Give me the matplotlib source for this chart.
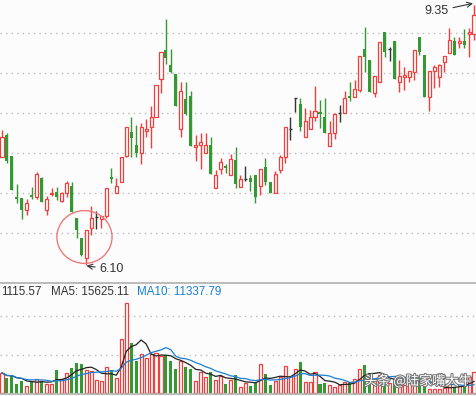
import numpy as np
import pandas as pd
import matplotlib
matplotlib.use('Agg')
import matplotlib.pyplot as plt
from matplotlib.patches import Ellipse
import matplotlib.patheffects as pe

# daily prices
opens = [7.45, 7.72, 7.46, 6.94, 6.94, 6.79, 6.98, 6.95, 7.19, 6.79,
         6.99, 7.01, 6.90, 7.00, 7.09, 6.69, 6.44, 6.19, 6.56, 6.70,
         6.68, 6.71, 7.20, 7.00, 7.14, 7.46, 7.76, 7.60, 7.50, 7.78,
         7.83, 7.95, 8.43, 8.79, 8.60, 8.49, 7.80, 8.18, 8.21, 7.58,
         7.60, 7.50, 7.60, 7.06, 7.30, 7.34, 7.22, 7.41, 7.08, 7.18,
         7.19, 7.22, 7.09, 7.33, 7.14, 7.00, 7.29, 7.45, 7.80, 8.19,
         8.11, 7.70, 7.80, 7.95, 8.01, 7.95, 7.59, 7.75, 8.00, 8.00,
         8.21, 8.20, 8.29, 8.80, 8.66, 8.25, 8.39, 9.01, 8.80, 8.90,
         8.39, 8.45, 8.45, 8.51, 8.95, 8.72, 8.20, 8.52, 8.45, 8.64,
         8.75, 8.90, 8.88, 8.90, 8.99, 8.99]
highs = [7.79, 7.75, 7.46, 7.11, 6.94, 6.93, 7.08, 7.26, 7.20, 6.96,
         7.06, 7.08, 7.01, 7.15, 7.14, 6.69, 6.44, 6.54, 6.84, 6.78,
         6.71, 7.06, 7.31, 7.19, 7.45, 7.83, 7.95, 7.85, 7.88, 7.93,
         8.09, 8.35, 8.76, 9.18, 8.80, 8.49, 8.39, 8.39, 8.28, 7.73,
         7.75, 7.75, 7.70, 7.29, 7.44, 7.36, 7.49, 7.58, 7.22, 7.34,
         7.22, 7.22, 7.30, 7.44, 7.14, 7.28, 7.48, 7.83, 7.95, 8.19,
         8.19, 8.06, 8.04, 8.34, 8.16, 8.19, 7.90, 8.00, 8.10, 8.28,
         8.39, 8.41, 8.71, 9.08, 8.66, 8.46, 8.89, 9.01, 8.82, 8.90,
         8.66, 8.58, 8.52, 8.79, 8.95, 8.72, 8.52, 8.60, 8.61, 8.71,
         9.06, 8.95, 8.95, 9.05, 9.06, 9.35]
lows = [7.45, 7.38, 7.04, 6.88, 6.68, 6.73, 6.93, 6.93, 6.89, 6.73,
        6.96, 6.91, 6.89, 6.95, 6.76, 6.44, 6.21, 6.10, 6.47, 6.55,
        6.56, 6.69, 7.13, 7.00, 7.14, 7.45, 7.45, 7.45, 7.36, 7.70,
        7.56, 7.95, 8.25, 8.61, 8.50, 8.09, 7.70, 7.98, 7.59, 7.40,
        7.30, 7.50, 7.24, 7.06, 7.24, 7.25, 7.22, 7.06, 7.08, 7.15,
        7.03, 6.88, 6.98, 7.10, 7.00, 7.00, 7.25, 7.38, 7.66, 8.01,
        7.78, 7.70, 7.80, 7.90, 7.81, 7.75, 7.59, 7.68, 7.89, 8.00,
        8.15, 8.20, 8.26, 8.51, 8.26, 8.20, 8.39, 8.70, 8.65, 8.43,
        8.26, 8.29, 8.39, 8.41, 8.72, 8.20, 8.02, 8.31, 8.33, 8.51,
        8.75, 8.72, 8.81, 8.81, 8.70, 8.91]
closes = [7.70, 7.40, 7.04, 6.93, 6.79, 6.88, 6.95, 7.24, 6.89, 6.93,
          7.00, 6.95, 7.00, 7.13, 6.76, 6.54, 6.22, 6.54, 6.69, 6.70,
          6.71, 7.06, 7.18, 7.09, 7.45, 7.83, 7.69, 7.50, 7.83, 7.80,
          7.95, 8.35, 8.76, 8.69, 8.51, 8.09, 8.28, 7.99, 7.59, 7.60,
          7.64, 7.60, 7.24, 7.22, 7.39, 7.31, 7.42, 7.11, 7.18, 7.18,
          7.14, 6.95, 7.30, 7.14, 7.00, 7.24, 7.45, 7.83, 7.80, 8.19,
          7.83, 7.90, 7.95, 8.02, 7.99, 7.75, 7.75, 7.99, 8.00, 8.19,
          8.19, 8.30, 8.71, 8.70, 8.26, 8.46, 8.89, 8.76, 8.80, 8.43,
          8.46, 8.47, 8.52, 8.79, 8.76, 8.20, 8.52, 8.58, 8.60, 8.71,
          8.91, 8.72, 8.90, 8.85, 9.01, 9.22]
volumes = [26000, 19500, 22100, 11700, 15600, 9100, 15600, 18200, 15600, 11700,
           11700, 29900, 18200, 26000, 32500, 39000, 37700, 29900, 28600, 16900,
           15600, 33800, 29900, 19500, 70200, 117000, 65000, 41600, 50700, 45500,
           50700, 52000, 48100, 49400, 41600, 31200, 41600, 33800, 31200, 15600,
           27300, 20800, 27300, 16900, 22100, 11700, 16900, 23400, 7800, 13000,
           9100, 13000, 37700, 24700, 10400, 15600, 20800, 35100, 22100, 31200,
           40300, 14300, 14300, 27300, 11700, 13000, 10400, 7800, 10400, 14300,
           14300, 18200, 31200, 36400, 26000, 15600, 23400, 19500, 13000, 18200,
           11700, 10400, 13000, 18200, 20800, 15600, 5200, 5200, 5200, 6500,
           11700, 7800, 9100, 10400, 20800, 27300]

bg = '#fcfcfc'
red = '#f23d3d'
green = '#339933'
flatc = '#333333'
grid = '#bbbbbb'

o = np.array(opens)
h = np.array(highs)
l = np.array(lows)
c = np.array(closes)
v = np.array(volumes)
x = np.arange(len(o))
up = c > o
dn = c < o
fl = c == o
w = 0.62

fig = plt.figure(figsize=(4.76, 3.96), dpi=100, facecolor=bg)
ax = fig.add_axes([0, 1 - 283/396, 1, 283/396], facecolor=bg)
axv = fig.add_axes([0, 2/396, 1, 111/396], facecolor=bg)

# price panel
for g in [6.5, 7.0, 7.5, 8.0, 8.5, 9.0]:
    ax.axhline(g, color=grid, lw=1, ls=(0, (1, 3)), zorder=0)

ax.vlines(x[up], l[up], o[up], color=red, lw=1)
ax.vlines(x[up], c[up], h[up], color=red, lw=1)
ax.bar(x[up], np.maximum(c[up] - o[up], 0.015), bottom=o[up], width=w,
       facecolor=bg, edgecolor=red, linewidth=0.9, zorder=3)
ax.vlines(x[dn], l[dn], h[dn], color=green, lw=1)
ax.bar(x[dn], np.maximum(o[dn] - c[dn], 0.015), bottom=c[dn], width=w,
       color=green, linewidth=0, zorder=3)
ax.vlines(x[fl], l[fl], h[fl], color=flatc, lw=1)
ax.hlines(o[fl], x[fl] - w/2, x[fl] + w/2, color=flatc, lw=1)

ax.set_xlim(-0.4, 95.4)
ax.set_ylim(5.875, 9.4125)
ax.axis('off')

# max / min markers
imax = int(np.argmax(h))
imin = int(np.argmin(l))
ax.annotate('%.2f' % h[imax], xy=(imax - 0.2, h[imax] + 0.02), xytext=(-26, -5.5),
            textcoords='offset points', ha='center', va='center',
            fontsize=9, family='Liberation Sans', color='#333333',
            arrowprops=dict(arrowstyle='->', color='#333333', lw=0.8,
                            shrinkA=1, shrinkB=0))
ax.annotate('%.2f' % l[imin], xy=(imin, l[imin] - 0.01), xytext=(18, -2.5),
            textcoords='offset points', ha='center', va='center',
            fontsize=9, family='Liberation Sans', color='#333333',
            arrowprops=dict(arrowstyle='->', color='#333333', lw=0.8,
                            shrinkA=1, shrinkB=0))
ax.add_patch(Ellipse((16.6, 6.45), 11.1, 0.66, fill=False,
                     edgecolor='#f07a7a', lw=1, zorder=5))

# volume panel
ma5 = pd.Series(v).rolling(5, min_periods=1).mean()
ma10 = pd.Series(v).rolling(10, min_periods=1).mean()
vred = c >= o
for g in [50000, 100000]:
    axv.axhline(g, color=grid, lw=1, ls=(0, (1, 3)), zorder=0)
axv.bar(x[vred], v[vred], width=w, facecolor=bg, edgecolor=red,
        linewidth=0.9, zorder=2)
axv.bar(x[~vred], v[~vred], width=w, color=green, linewidth=0, zorder=2)
axv.plot(x, ma5, color='#222222', lw=0.9, zorder=4)
axv.plot(x, ma10, color='#1a7fd4', lw=0.9, zorder=4)
axv.set_xlim(-0.4, 95.4)
axv.set_ylim(-1300, 143000)
axv.set_xticks([])
axv.set_yticks([])
for s in ['left', 'right']:
    axv.spines[s].set_visible(False)
for s in ['top', 'bottom']:
    axv.spines[s].set_color('#b0b0b0')
    axv.spines[s].set_linewidth(1.2)

ty = 1 - 292/396
fig.text(1/476, ty, '1115.57', fontsize=8.4, family='Liberation Sans',
         color='#333333', va='center')
fig.text(51/476, ty, 'MA5: 15625.11', fontsize=8.4, family='Liberation Sans',
         color='#333333', va='center')
fig.text(137/476, ty, 'MA10: 11337.79', fontsize=8.4, family='Liberation Sans',
         color='#1a7fd4', va='center')

fig.text(364/476, 1 - 381/396, '头条 @陆家嘴大牛', fontsize=9.5,
         family=['Noto Sans CJK SC', 'DejaVu Sans'], color='white', va='center',
         path_effects=[pe.withStroke(linewidth=1.5, foreground='#777777')])

fig.savefig('out.png', dpi=100, facecolor=bg)
